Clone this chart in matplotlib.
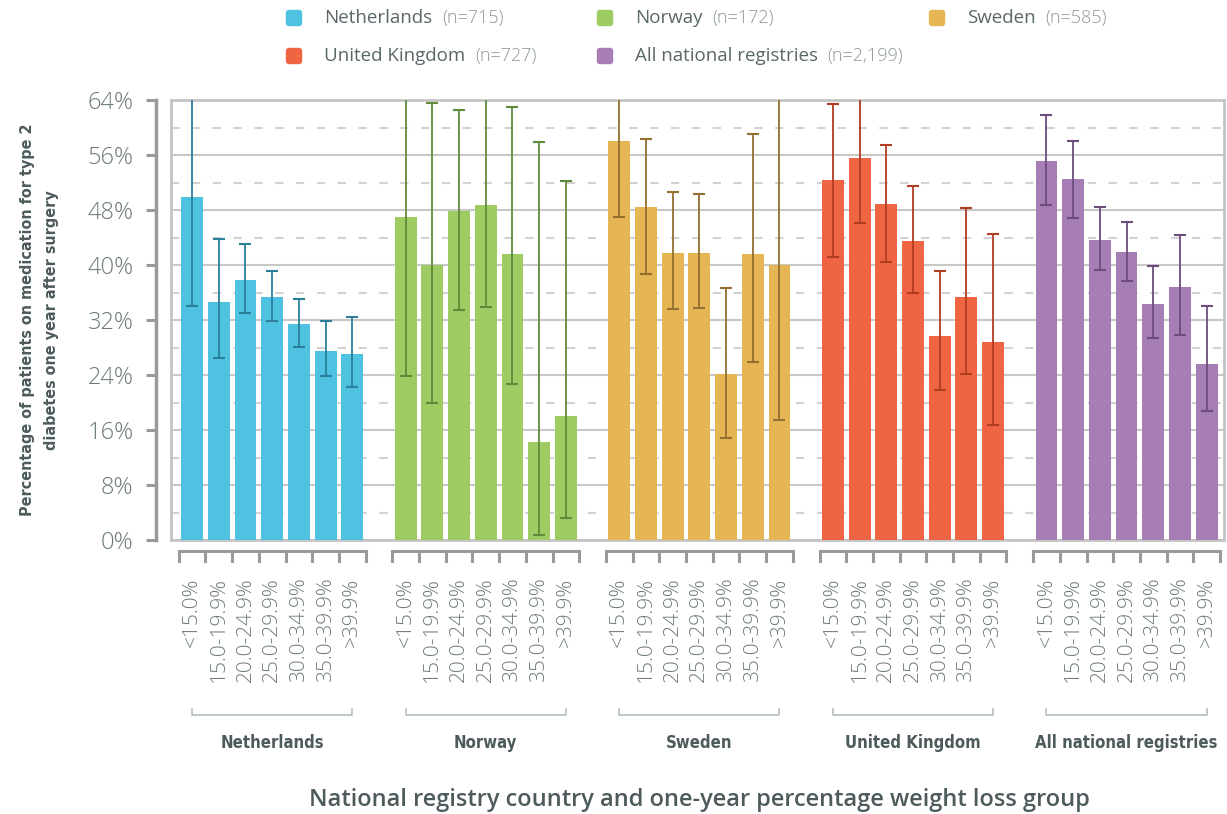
import numpy as np
import matplotlib.pyplot as plt
import matplotlib.transforms as mtransforms
from matplotlib.patches import FancyBboxPatch

groups = ['Netherlands', 'Norway', 'Sweden', 'United Kingdom', 'All national registries']
counts = ['715', '172', '585', '727', '2,199']
bins = ['<15.0%', '15.0-19.9%', '20.0-24.9%', '25.0-29.9%', '30.0-34.9%', '35.0-39.9%', '>39.9%']

# percentage on medication, with lower / upper bounds of the interval
netherlands = [49.9, 34.6, 37.8, 35.3, 31.4, 27.5, 27.1]
netherlands_low = [34.0, 26.5, 33.0, 31.8, 28.1, 23.8, 22.3]
netherlands_high = [70.0, 43.8, 43.0, 39.1, 35.1, 31.8, 32.5]

norway = [47.0, 40.0, 47.9, 48.8, 41.6, 14.2, 18.1]
norway_low = [23.9, 20.0, 33.5, 33.9, 22.7, 0.7, 3.2]
norway_high = [70.0, 63.6, 62.6, 70.0, 63.0, 57.9, 52.2]

sweden = [58.0, 48.5, 41.8, 41.7, 24.1, 41.6, 40.0]
sweden_low = [47.0, 38.7, 33.6, 33.7, 14.9, 25.9, 17.4]
sweden_high = [70.0, 58.4, 50.6, 50.4, 36.6, 59.1, 70.0]

uk = [52.4, 55.5, 48.9, 43.5, 29.7, 35.3, 28.8]
uk_low = [41.2, 46.1, 40.4, 36.0, 21.8, 24.1, 16.8]
uk_high = [63.4, 70.0, 57.4, 51.5, 39.2, 48.3, 44.5]

all_reg = [55.2, 52.5, 43.7, 41.9, 34.3, 36.8, 25.6]
all_reg_low = [48.7, 46.9, 39.3, 37.7, 29.4, 29.8, 18.8]
all_reg_high = [61.8, 58.0, 48.5, 46.3, 39.8, 44.4, 34.0]

values = [netherlands, norway, sweden, uk, all_reg]
lows = [netherlands_low, norway_low, sweden_low, uk_low, all_reg_low]
highs = [netherlands_high, norway_high, sweden_high, uk_high, all_reg_high]

colors = ['#4fc2e2', '#9fcc62', '#e6b554', '#ef6443', '#a67db4']
err_colors = ['#2b7f99', '#5f8a3b', '#93702f', '#b03c22', '#6d4d7c']

txt = '#5a6768'
dark = '#4d5b5c'
tick_col = '#6d7a7b'
light_font = ['Open Sans', 'DejaVu Sans']
narrow = ['Noto Sans Condensed', 'DejaVu Sans']

fig = plt.figure(figsize=(12.27, 8.14), dpi=100)
ax = fig.add_axes([171 / 1227, 274 / 814, 1053 / 1227, 440 / 814])

# spine position first: moving it resets the ticks
for s in ['top', 'right', 'bottom']:
    ax.spines[s].set_color('#c4c4c4')
    ax.spines[s].set_linewidth(2)
ax.spines['left'].set_position(('outward', 11))
ax.spines['left'].set_color('#9a9a9a')
ax.spines['left'].set_linewidth(2.5)
ax.plot([0, 0], [0, 1], transform=ax.transAxes, color='#c4c4c4', lw=2, clip_on=False, zorder=5)

xpos = []
for g in range(len(groups)):
    x = g * 8 + np.arange(len(bins))
    xpos.extend(x)
    v = np.array(values[g])
    ax.bar(x, v, width=0.82, color=colors[g], zorder=3)
    ax.errorbar(x, v, yerr=[v - np.array(lows[g]), np.array(highs[g]) - v], fmt='none',
                ecolor=err_colors[g], elinewidth=1.3, capsize=4, capthick=1.5, zorder=4)

ax.set_xlim(-0.79, 38.65)
ax.set_ylim(0, 64)
ax.tick_params(axis='y', which='major', length=7, width=2.2, color='#9a9a9a', pad=9)
ax.tick_params(axis='y', which='minor', length=0)
ax.tick_params(axis='x', length=0, pad=27)

ax.set_yticks(np.arange(0, 65, 8))
ax.set_yticklabels([f'{v}%' for v in range(0, 65, 8)], fontsize=17, color=tick_col,
                   family=light_font, fontweight='light')
ax.set_yticks(np.arange(4, 64, 8), minor=True)
ax.yaxis.grid(True, which='major', color='#c8c8c8', lw=1.5, zorder=0)
ax.yaxis.grid(True, which='minor', color='#d2d2d2', lw=1.5, ls=(0, (4, 6)), zorder=0)

ax.set_xticks(xpos)
ax.set_xticklabels(bins * len(groups), rotation=90, va='top', ha='center', fontsize=15,
                   color=tick_col, family=light_font, fontweight='light')

trans = mtransforms.blended_transform_factory(ax.transData, ax.transAxes)
for g, name in enumerate(groups):
    x0 = g * 8 - 0.5
    x1 = g * 8 + 6.5
    ax.plot([x0, x1], [-0.025, -0.025], transform=trans, color='#9a9a9a', lw=2.2, clip_on=False)
    for xb in np.arange(x0, x1 + 0.01, 1):
        ax.plot([xb, xb], [-0.025, -0.048], transform=trans, color='#9a9a9a', lw=2.2, clip_on=False)
    ax.plot([g * 8, g * 8, g * 8 + 6, g * 8 + 6], [-0.384, -0.398, -0.398, -0.384], transform=trans,
            color='#b4c0c2', lw=1.2, clip_on=False)
    ax.text(g * 8 + 3, -0.462, name, transform=trans, ha='center', va='center', fontsize=12,
            fontweight='bold', family=narrow, fontstretch='condensed', color=dark)

ax.set_ylabel('Percentage of patients on medication for type 2\ndiabetes one year after surgery',
              fontsize=11.5, fontweight='bold', family=narrow, fontstretch='condensed',
              color=dark, linespacing=1.75)
ax.yaxis.set_label_coords(-0.106, 0.5)

fig.text(699 / 1227, 1 - 800 / 814, 'National registry country and one-year percentage weight loss group',
         ha='center', va='center', fontsize=17, fontweight='semibold', family=light_font, color=dark)

# legend drawn by hand: name in dark grey, count in light grey
leg_x = [294, 605, 937, 294, 605]
leg_y = [18, 18, 18, 56, 56]
for g, name in enumerate(groups):
    px, py = leg_x[g], 814 - leg_y[g]
    fig.add_artist(FancyBboxPatch((px - 7.5, py - 7.5), 15, 15, boxstyle='round,pad=0,rounding_size=2.5',
                                  transform=mtransforms.IdentityTransform(), color=colors[g]))
    t = fig.text((px + 30) / 1227, py / 814, name, va='center', ha='left', fontsize=13.5,
                 color=txt, family=light_font)
    ax.annotate(f'(n={counts[g]})', xy=(1, 0.5), xycoords=t, xytext=(7, 0), textcoords='offset points',
                va='center', ha='left', fontsize=13, color='#8e9899', family=light_font,
                fontweight='light', annotation_clip=False)

fig.savefig('out.png', dpi=100)
